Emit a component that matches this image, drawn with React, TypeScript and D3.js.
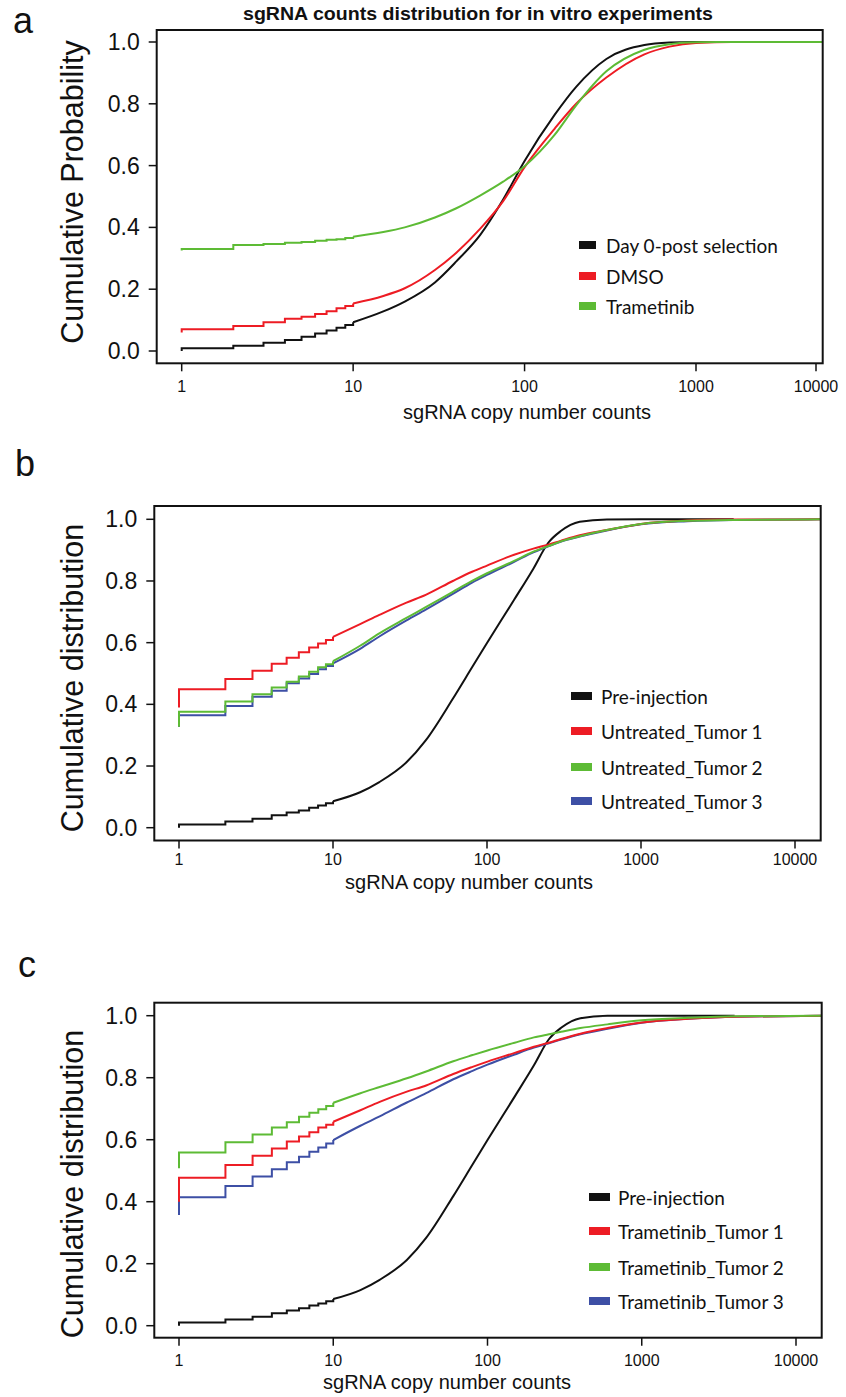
import * as d3 from 'd3';

// shared axis values
const stepCounts = [1, 2, 3, 4, 5, 6, 7, 8, 9, 10];
const aCurveCounts = [10, 15, 20, 30, 40, 55, 75, 100, 150, 200, 300, 500, 700, 1000, 2000, 20000];
const bcCurveCounts = [10, 15, 20, 30, 40, 60, 80, 100, 150, 200, 250, 300, 400, 600, 1000, 2000, 4000, 20000];
const yTicks = [0, 0.2, 0.4, 0.6, 0.8, 1.0];
const xTicks = [1, 10, 100, 1000, 10000];

// panel a - in vitro
const day0Start = 0.0;
const day0Steps = [0.009, 0.017, 0.027, 0.036, 0.046, 0.057, 0.066, 0.075, 0.084, 0.093];
const day0Curve = [0.093, 0.128, 0.16, 0.222, 0.29, 0.375, 0.49, 0.615, 0.765, 0.855, 0.945, 0.99, 0.998, 1.0, 1.0, 1.0];
const dmsoStart = 0.06;
const dmsoSteps = [0.07, 0.081, 0.093, 0.104, 0.111, 0.12, 0.129, 0.138, 0.146, 0.154];
const dmsoCurve = [0.154, 0.178, 0.203, 0.262, 0.318, 0.395, 0.485, 0.595, 0.72, 0.8, 0.885, 0.96, 0.985, 0.997, 1.0, 1.0];
const trametStart = 0.325;
const trametSteps = [0.33, 0.343, 0.346, 0.35, 0.353, 0.357, 0.36, 0.362, 0.366, 0.37];
const trametCurve = [0.37, 0.385, 0.4, 0.432, 0.462, 0.503, 0.548, 0.598, 0.7, 0.795, 0.905, 0.975, 0.993, 0.999, 1.0, 1.0];

// panel b and c - pre-injection (same sample in both)
const preStart = 0.0;
const preSteps = [0.01, 0.02, 0.029, 0.04, 0.049, 0.056, 0.065, 0.072, 0.079, 0.086];
const preCurve = [0.086, 0.115, 0.148, 0.212, 0.283, 0.418, 0.52, 0.599, 0.739, 0.84, 0.924, 0.961, 0.992, 0.9995, 1.0, 1.0, 1.0, null];

// panel b - untreated tumors
const untreated1Start = 0.39;
const untreated1Steps = [0.449, 0.482, 0.509, 0.532, 0.551, 0.569, 0.584, 0.597, 0.609, 0.619];
const untreated1Curve = [0.619, 0.66, 0.69, 0.73, 0.755, 0.8, 0.83, 0.85, 0.885, 0.905, 0.918, 0.93, 0.948, 0.965, 0.985, 0.996, 0.999, 1.0];
const untreated2Start = 0.327;
const untreated2Steps = [0.376, 0.409, 0.433, 0.455, 0.473, 0.49, 0.506, 0.52, 0.53, 0.54];
const untreated2Curve = [0.54, 0.59, 0.63, 0.68, 0.715, 0.765, 0.8, 0.825, 0.865, 0.895, 0.913, 0.928, 0.945, 0.965, 0.985, 0.995, 0.998, 1.0];
const untreated3Start = 0.327;
const untreated3Steps = [0.365, 0.395, 0.425, 0.444, 0.468, 0.484, 0.498, 0.514, 0.524, 0.533];
const untreated3Curve = [0.533, 0.58, 0.62, 0.672, 0.707, 0.758, 0.795, 0.82, 0.862, 0.893, 0.912, 0.927, 0.944, 0.964, 0.984, 0.994, 0.998, 1.0];

// panel c - trametinib tumors
const tram1Start = 0.40;
const tram1Steps = [0.477, 0.518, 0.548, 0.572, 0.594, 0.61, 0.624, 0.639, 0.648, 0.658];
const tram1Curve = [0.658, 0.695, 0.722, 0.755, 0.775, 0.812, 0.835, 0.852, 0.88, 0.9, 0.913, 0.925, 0.942, 0.96, 0.978, 0.99, 0.997, 1.0];
const tram2Start = 0.508;
const tram2Steps = [0.559, 0.592, 0.617, 0.639, 0.656, 0.674, 0.687, 0.698, 0.709, 0.719];
const tram2Curve = [0.719, 0.75, 0.77, 0.798, 0.82, 0.853, 0.873, 0.888, 0.913, 0.93, 0.94, 0.948, 0.96, 0.972, 0.985, 0.993, 0.998, 1.0];
const tram3Start = 0.357;
const tram3Steps = [0.414, 0.451, 0.481, 0.505, 0.527, 0.545, 0.561, 0.575, 0.588, 0.599];
const tram3Curve = [0.599, 0.645, 0.675, 0.72, 0.75, 0.795, 0.822, 0.842, 0.875, 0.897, 0.911, 0.923, 0.94, 0.958, 0.977, 0.99, 0.997, 1.0];

const BLACK = '#111111';
const RED = '#ED1C24';
const GREEN = '#5DBB35';
const BLUE = '#3D4FA5';

type Series = { name: string; color: string; start: number; steps: number[]; curve: (number | null)[] };

const panelA: Series[] = [
  { name: 'Day 0-post selection', color: BLACK, start: day0Start, steps: day0Steps, curve: day0Curve },
  { name: 'DMSO', color: RED, start: dmsoStart, steps: dmsoSteps, curve: dmsoCurve },
  { name: 'Trametinib', color: GREEN, start: trametStart, steps: trametSteps, curve: trametCurve },
];
const panelB: Series[] = [
  { name: 'Pre-injection', color: BLACK, start: preStart, steps: preSteps, curve: preCurve },
  { name: 'Untreated_Tumor 1', color: RED, start: untreated1Start, steps: untreated1Steps, curve: untreated1Curve },
  { name: 'Untreated_Tumor 2', color: GREEN, start: untreated2Start, steps: untreated2Steps, curve: untreated2Curve },
  { name: 'Untreated_Tumor 3', color: BLUE, start: untreated3Start, steps: untreated3Steps, curve: untreated3Curve },
];
const panelC: Series[] = [
  { name: 'Pre-injection', color: BLACK, start: preStart, steps: preSteps, curve: preCurve },
  { name: 'Trametinib_Tumor 1', color: RED, start: tram1Start, steps: tram1Steps, curve: tram1Curve },
  { name: 'Trametinib_Tumor 2', color: GREEN, start: tram2Start, steps: tram2Steps, curve: tram2Curve },
  { name: 'Trametinib_Tumor 3', color: BLUE, start: tram3Start, steps: tram3Steps, curve: tram3Curve },
];
// draw order: black under the others, blue before green
const drawOrderB = [0, 3, 1, 2];
const drawOrderC = [0, 3, 1, 2];

const AXIS_FONT = '"Liberation Sans", Arial, sans-serif';
const LEGEND_FONT = 'Lato, "Open Sans", sans-serif';

function Panel({ id, series, order, curveCounts, box, x, yRange, xLabelDy, xTitle, yTitle, legend, label }: any) {
  const y = d3.scaleLinear().domain([0, 1]).range(yRange);
  const stepLine = d3.line<[number, number]>().x(d => x(d[0])).y(d => y(d[1])).curve(d3.curveStepAfter);
  const smoothLine = d3.line<[number, number | null]>()
    .defined(d => d[1] !== null)
    .x(d => x(d[0])).y(d => y(d[1] as number))
    .curve(d3.curveMonotoneX);

  return (
    <g>
      <defs>
        <clipPath id={`clip-${id}`}>
          <rect x={box.l} y={box.t} width={box.r - box.l} height={box.b - box.t} />
        </clipPath>
      </defs>
      <g clipPath={`url(#clip-${id})`} fill="none" strokeWidth={2}>
        {order.map((k: number) => {
          const s: Series = series[k];
          const stepPts: [number, number][] = [[stepCounts[0], s.start], ...stepCounts.map((c, i) => [c, s.steps[i]] as [number, number])];
          const curvePts: [number, number | null][] = curveCounts.map((c: number, i: number) => [c, s.curve[i]]);
          return (
            <g key={k} stroke={s.color}>
              <path d={stepLine(stepPts) || ''} />
              <path d={smoothLine(curvePts) || ''} />
            </g>
          );
        })}
      </g>
      <rect x={box.l} y={box.t} width={box.r - box.l} height={box.b - box.t} fill="none" stroke="#111" strokeWidth={2} />
      {yTicks.map(t => (
        <g key={t}>
          <line x1={box.l - 8} x2={box.l} y1={y(t)} y2={y(t)} stroke="#111" strokeWidth={1.5} />
          <text x={box.l - 17} y={y(t)} textAnchor="end" dominantBaseline="central"
            fontFamily={AXIS_FONT} fontSize={23} fill="#111">{d3.format('.1f')(t)}</text>
        </g>
      ))}
      {xTicks.map(t => (
        <g key={t}>
          <line x1={x(t)} x2={x(t)} y1={box.b} y2={box.b + 8} stroke="#111" strokeWidth={1.5} />
          <text x={x(t)} y={box.b + xLabelDy} textAnchor="middle" dominantBaseline="central"
            fontFamily={AXIS_FONT} fontSize={16} fill="#111">{t}</text>
        </g>
      ))}
      <text x={xTitle.x} y={xTitle.y} textAnchor="middle" dominantBaseline="central"
        fontFamily={AXIS_FONT} fontSize={20} fill="#111">sgRNA copy number counts</text>
      <text transform={`translate(${yTitle.x},${yTitle.y}) rotate(-90)`} textAnchor="middle" dominantBaseline="central"
        fontFamily={AXIS_FONT} fontSize={30.5} fill="#111">{yTitle.text}</text>
      {series.map((s: Series, i: number) => (
        <g key={s.name}>
          <rect x={legend.x} y={legend.ys[i] - 4} width={legend.w} height={8} fill={s.color} />
          <text x={legend.tx} y={legend.ys[i]} dominantBaseline="central"
            fontFamily={LEGEND_FONT} fontSize={19} fill="#111">{s.name}</text>
        </g>
      ))}
      <text x={label.x} y={label.y} fontFamily={AXIS_FONT} fontSize={36} fill="#111">{label.text}</text>
    </g>
  );
}

export default function App() {
  // top panel: the 10000 tick sits closer than a full decade in the original figure
  const xA = d3.scaleLog().domain([1, 1000, 10000]).range([181.7, 696, 816]);
  const xB = d3.scaleLog().domain([1, 10000]).range([179, 795]);
  const xC = d3.scaleLog().domain([1, 10000]).range([179, 796]);

  return (
    <svg width={846} height={1397} style={{ position: 'absolute', left: 0, top: 0, background: '#fff' }}>
      <rect width={846} height={1397} fill="#fff" />
      <text x={478} y={14} textAnchor="middle" dominantBaseline="central"
        fontFamily={AXIS_FONT} fontWeight="bold" fontSize={17.5} fill="#111"
        textLength={470} lengthAdjust="spacingAndGlyphs">
        sgRNA counts distribution for in vitro experiments
      </text>
      <Panel id="a" series={panelA} order={[0, 1, 2]} curveCounts={aCurveCounts}
        box={{ l: 156.7, r: 822.7, t: 30, b: 363.3 }} x={xA} yRange={[351, 42]} xLabelDy={23}
        xTitle={{ x: 527, y: 412 }} yTitle={{ x: 72, y: 192, text: 'Cumulative Probability' }}
        legend={{ x: 579, w: 17, tx: 606, ys: [245, 276, 306] }}
        label={{ text: 'a', x: 13, y: 33 }} />
      <Panel id="b" series={panelB} order={drawOrderB} curveCounts={bcCurveCounts}
        box={{ l: 154.3, r: 820.7, t: 506, b: 840.5 }} x={xB} yRange={[827.7, 519.3]} xLabelDy={19}
        xTitle={{ x: 469, y: 882 }} yTitle={{ x: 72, y: 678, text: 'Cumulative distribution' }}
        legend={{ x: 571, w: 21, tx: 601, ys: [696, 731, 767, 801] }}
        label={{ text: 'b', x: 15, y: 476 }} />
      <Panel id="c" series={panelC} order={drawOrderC} curveCounts={bcCurveCounts}
        box={{ l: 154.3, r: 821.7, t: 1002.7, b: 1337.7 }} x={xC} yRange={[1325.7, 1015.7]} xLabelDy={23}
        xTitle={{ x: 447, y: 1382 }} yTitle={{ x: 72, y: 1184, text: 'Cumulative distribution' }}
        legend={{ x: 589, w: 21, tx: 618, ys: [1197, 1231, 1267, 1301] }}
        label={{ text: 'c', x: 18, y: 977 }} />
    </svg>
  );
}
